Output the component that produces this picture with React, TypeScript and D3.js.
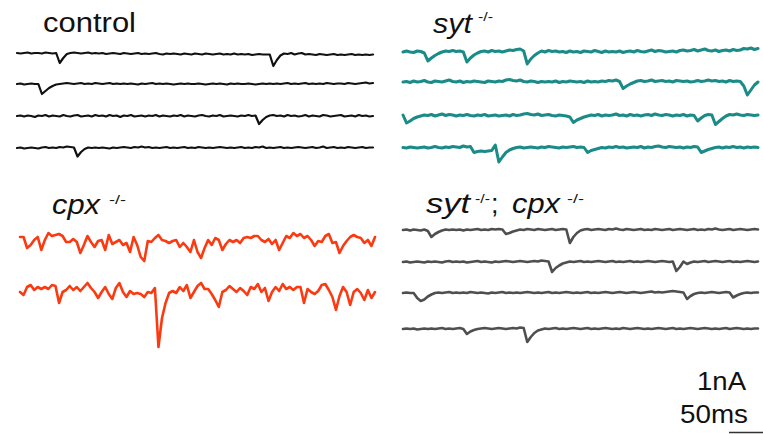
import React from 'react';
import * as d3 from 'd3';

// Sample interval of every trace (ms); values are currents in pA (negative = inward)
const SAMPLE_MS = 5;
const TRACE_MS = 500;

const controlTrace1 = [10, 5, 10, 15, 5, 10, 10, 5, 15, 10, 5, 10, -90, -40, 0, 10, 15, 10, 5, 10, 15, 5, 10, 5, 10, 0, 5, 10, 5, 0, 10, 5, 0, 5, 10, 0, 5, 0, 5, 10, 0, -5, 5, 0, 5, 0, -5, 5, 0, -5, 5, 0, -5, 5, 0, -5, 0, 5, -5, 0, -5, 5, -5, 0, -5, 0, -10, -5, 0, -5, -5, -5, -120, -60, -15, 5, 0, 10, -5, 5, 10, -5, 0, -5, -10, 0, -5, -10, -5, 0, -10, -5, -10, -5, 0, -10, -5, -10, -5, -10, -5];
const controlTrace2 = [0, 5, -5, 0, 5, 0, 0, -100, -70, -40, -20, -5, 0, 5, 10, 5, 0, 5, 10, 0, 5, 0, 10, 5, 0, 5, 10, 0, 5, 0, 5, 0, 5, 0, -5, 5, 0, 5, 10, 0, 5, 0, 5, 0, -5, 0, 5, 0, 5, 0, 0, 5, 0, -5, 0, 5, 0, 5, 0, -5, 5, 0, 5, 0, 0, 5, 0, -5, 0, 5, 0, 5, 0, 5, 0, 5, 10, 0, 5, 0, 5, 10, 0, 5, 0, 5, 0, 10, 5, 0, 5, 5, 0, 10, 5, 0, 5, 10, 15, 5, 10];
const controlTrace3 = [0, 5, -5, 5, 0, -10, 5, 0, 10, -5, 5, 0, -5, 10, 0, -5, 5, 10, -5, 0, 5, -5, 10, 0, 5, -5, 10, 0, 5, -10, 5, 0, 10, -5, 0, 5, -5, 5, 0, 10, -5, 5, 0, -5, 5, 0, 10, -5, 5, 0, -5, 5, 10, 0, -5, 5, 0, 10, -5, 0, 5, 0, -5, 5, 0, 10, 0, 5, -80, -40, -10, 5, 10, 0, 5, -5, 10, 0, 5, -5, 0, 10, -5, 5, 0, -5, 10, 5, -5, 0, 5, 10, -5, 0, 5, -5, 10, 0, 5, -5, 0];
const controlTrace4 = [0, 5, -5, 0, 5, 0, -5, 5, 10, 0, 5, 0, 10, 5, 15, 10, 5, -85, -40, -10, 5, 0, 5, 0, 5, 0, -5, 5, 0, 5, 10, 5, 0, 10, 5, 15, 5, 10, 0, 5, 0, 5, 10, 0, 5, 0, 5, 10, 0, 5, 0, 10, 5, 0, 5, 0, 5, 10, 5, 0, 5, 0, 5, 10, 0, 5, 0, 10, 5, 15, 0, 5, 0, 5, 10, 0, 5, 0, 5, 10, 5, 0, 5, 10, 0, 5, 15, 0, 5, 10, 0, 5, 0, 10, 5, 0, 5, 10, 0, 5, 5];

const sytTrace1 = [0, 10, 0, -5, 10, 5, -10, -90, -60, -35, -15, 0, 10, 5, 15, 5, 10, 0, -100, -60, -30, -10, 5, 10, 0, 15, 5, 10, 0, 10, 20, 15, 25, 30, 10, -120, -70, -35, -10, 10, 0, 15, 5, 10, 0, 5, -5, 10, 0, 5, -5, 10, 5, 0, 15, 5, -5, 10, 0, 5, 0, 10, -5, 5, 10, 0, 15, 5, 0, 10, 20, 5, 15, 10, 0, 5, 10, 0, 15, 20, 10, 15, 25, 10, 20, 30, 15, 10, 20, 5, 15, 20, 10, 25, 15, 20, 35, 30, 40, 25, 35];
const sytTrace2 = [0, 5, -5, 10, 0, 5, 15, 0, -5, 10, 5, 0, 10, 20, 5, 0, 10, -5, 5, 0, 10, 5, 0, -5, 10, 5, 0, 10, 5, 20, 25, 15, 10, 20, 5, 0, 10, 5, -5, 5, 0, 5, 0, 10, -5, 5, 0, 10, 5, 0, 5, -5, 10, 0, 5, 0, 10, 5, 15, 10, 20, 5, -65, -40, -20, -5, 10, 15, 5, 10, 20, 5, 10, 15, 5, 10, 0, 15, 10, 5, 10, 0, 5, 15, 5, 10, 20, 10, 15, 5, 10, 0, 15, 5, 10, 5, -40, -130, -80, -30, 0];
const sytTrace3 = [10, -70, -50, -25, -10, 0, 10, 5, 15, 0, 10, 20, 5, 15, 10, 0, 10, 5, 15, 5, 0, 10, 5, 15, 0, 5, 10, 0, 5, 10, 0, 15, 5, 10, 20, 25, 15, 10, 20, 5, 10, 15, 5, 0, 10, 5, 0, -10, -65, -40, -25, -10, 0, 10, 5, 15, 0, 10, 5, 10, 20, 5, 10, 0, 15, 5, 10, 0, 10, 15, 5, 20, 10, 5, 15, 10, 0, 10, 5, 15, 0, 10, 5, -50, -20, 5, 15, 10, -85, -55, -25, 0, 15, 10, 20, 10, 5, 15, 10, 5, 10];
const sytTrace4 = [5, 0, 10, 5, 0, 5, 10, 0, 5, 15, 5, 0, 10, 5, 15, 10, 5, 20, 10, 15, -45, -35, -30, -35, -30, -25, 30, -140, -90, -45, -20, -5, 5, 10, 0, 5, 10, 5, 0, 10, 5, 15, 10, 5, 0, 10, 5, 10, 15, 5, 10, 5, -45, -25, -15, -5, 5, 0, 10, 5, 15, 5, 10, 0, 5, 10, 5, 15, 0, 10, 5, 15, 20, 10, 5, 15, 10, 5, 10, 0, 10, 5, 15, 10, -45, -30, -15, -5, 5, 10, 0, 10, 5, 15, 5, 10, 0, 10, 5, 10, 5];

const cpxTrace1 = [60, 60, -50, -20, 30, 60, -70, 30, 100, 70, 80, 90, 70, 10, 10, 40, 10, -100, -20, 70, 10, -40, 20, 30, -70, 80, -10, 10, 30, -20, 0, -90, 60, -20, -140, -180, 20, 10, 50, 80, 30, 20, 0, 20, 30, -40, 0, -40, -90, 30, -90, -150, -50, 30, -20, 50, 30, -70, -10, 30, 10, 30, 0, 50, 60, 50, 70, 70, 30, 10, 40, -10, 30, -70, 0, 70, 50, 100, 70, 90, 50, 70, 30, -30, 20, 10, 70, 90, 0, 10, -100, -30, 20, 60, 80, 60, 50, 0, 30, -30, 60];
const cpxTrace2 = [-10, -40, 40, 60, 10, 40, 20, 40, 20, 60, 50, -120, -10, 10, 50, 10, 40, 0, 40, 80, 30, -10, -70, -10, 40, -30, -80, 30, 80, -10, -60, 0, -30, -20, -30, -60, -10, -20, 30, -560, -270, -120, -20, 0, -20, 40, 0, 60, -70, -10, 50, 80, 20, 20, -30, -90, -160, -10, 10, 50, 20, -10, 30, 0, -40, 40, 20, 70, -10, 30, -100, -10, 40, 0, 70, 20, 40, 10, 40, 40, -120, 20, -10, -30, 0, 60, 70, 10, -60, -190, -50, 40, -10, -140, -10, 20, -20, -90, 10, -70, -10];

const sytCpxTrace1 = [0, 5, -5, 5, 0, -5, 5, -10, -70, -40, -20, -5, 5, 0, 5, 0, 5, -5, 5, 0, 5, 10, 0, 5, 0, 10, 5, 10, 5, -40, -30, -15, -5, 5, 0, 10, 5, 0, 10, 5, 0, 5, 10, 0, 5, 10, 5, -130, -70, -30, -5, 5, 10, 0, 5, 10, 5, 0, 10, 5, 15, 5, 0, 10, 5, 0, 5, 10, 0, 5, 0, 10, 5, 0, 5, 10, 0, 5, 10, 5, 0, 5, 10, 0, 5, 0, 10, 5, 15, 5, 0, 5, 10, 0, 5, 10, 5, 0, 5, 10, 5];
const sytCpxTrace2 = [0, 5, -5, 0, 5, 0, -5, 5, 0, 5, 0, -5, 5, 10, 0, 5, 0, 5, -5, 0, 5, 10, 0, 5, 0, -5, 5, 0, 5, 10, 5, 0, 5, 10, 5, 0, 5, 10, 5, 15, 10, 5, -100, -60, -35, -15, -5, 5, 0, 5, 10, 0, 5, 0, 5, 10, 5, 0, 5, 10, 0, 5, 0, 5, 10, 0, 5, 0, 5, 10, 5, 0, 5, 10, 5, 0, 5, -90, -50, 5, -20, -5, 5, 0, 5, 10, 0, 5, 10, 5, 0, 5, 10, 0, 5, 0, 5, 10, 5, 0, 5];
const sytCpxTrace3 = [0, 5, 0, 0, -50, -80, -65, -35, -15, 0, 5, 0, 5, 10, 0, 5, 0, 5, 0, 10, 5, 0, 5, 0, -5, 5, 0, 5, 10, 0, 5, 0, 5, 0, 5, 10, 5, 0, 5, 0, 5, 10, 0, 5, 0, 5, 10, 5, 0, 5, 0, 5, 10, 0, 5, 0, 5, 10, 5, 0, 5, 10, 5, 0, 5, 10, 5, 0, 5, 10, 15, 5, 10, 5, 10, 15, 20, 15, 10, 5, -60, -30, -10, 0, 5, 0, 5, 10, 5, 0, 5, 10, 5, -45, -25, -10, 0, 5, 0, 5, 5];
const sytCpxTrace4 = [0, 5, 0, 5, -5, 0, 5, 0, 5, 0, 5, 10, 0, 5, 0, 5, 10, 0, -50, -25, -10, 0, 5, 10, 5, 0, 5, 10, 5, 0, 5, 10, 5, 15, 10, -130, -80, -40, -15, -5, 5, 0, 5, 10, 0, 5, 0, 5, 10, 5, 0, 5, 10, 0, 5, 0, 5, 10, 5, 0, 5, 0, 10, 5, 0, 5, 10, 5, 0, 5, 0, 5, 10, 5, 0, 5, 10, 0, 5, 0, 5, 10, 5, 0, 5, 10, 5, 0, 5, 0, 5, 10, 0, 5, 10, 5, 0, 5, 0, 5, 5];

const SCALE_BAR_MS = 50;
const ampLabel = '1nA';
const timeLabel = '50ms';

const FONT = "'Liberation Sans', Arial, Helvetica, sans-serif";

type Panel = {
  traces: number[][];
  x0: number;
  x1: number;
  baselines: number[];
  color: string;
  width: number;
};

const panels: Panel[] = [
  { traces: [controlTrace1, controlTrace2, controlTrace3, controlTrace4], x0: 17, x1: 373, baselines: [54, 84, 116, 148], color: '#111111', width: 2.2 },
  { traces: [sytTrace1, sytTrace2, sytTrace3, sytTrace4], x0: 403, x1: 758, baselines: [52, 82, 116, 148], color: '#1b8b88', width: 3 },
  { traces: [cpxTrace1, cpxTrace2], x0: 20, x1: 375, baselines: [243, 291], color: '#fb3a12', width: 2.6 },
  { traces: [sytCpxTrace1, sytCpxTrace2, sytCpxTrace3, sytCpxTrace4], x0: 403, x1: 758, baselines: [230, 262, 293, 329], color: '#4f4f4f', width: 2.6 },
];

// 1 px = 10 pA
const amp = d3.scaleLinear().domain([0, 1000]).range([0, -100]);

export default function App() {
  const timeScale = d3.scaleLinear().domain([0, TRACE_MS]).range([403, 758]);
  const barX0 = 729;
  const barLen = timeScale(SCALE_BAR_MS) - timeScale(0);
  return (
    <svg width={763} height={434} style={{ position: 'absolute', left: 0, top: 0, background: '#fff' }}>
      <rect x={0} y={0} width={763} height={434} fill="#ffffff" />
      {panels.map((p, pi) => {
        const xs = d3.scaleLinear().domain([0, TRACE_MS]).range([p.x0, p.x1]);
        return (
          <g key={pi}>
            {p.traces.map((tr, ti) => {
              const line = d3
                .line<number>()
                .x((_, i) => xs(i * SAMPLE_MS))
                .y((d) => p.baselines[ti] + amp(d))
                .curve(d3.curveLinear);
              return (
                <path key={ti} d={line(tr) || ''} fill="none" stroke={p.color} strokeWidth={p.width} strokeLinejoin="round" strokeLinecap="round" />
              );
            })}
          </g>
        );
      })}
      <g fontFamily={FONT} fill="#111">
        <text x={43} y={32} fontSize={27} textLength={93} lengthAdjust="spacingAndGlyphs">control</text>
        <text x={433} y={33} fontSize={27} fontStyle="italic" textLength={39} lengthAdjust="spacingAndGlyphs">syt</text>
        <text x={478} y={21} fontSize={12} textLength={15} lengthAdjust="spacingAndGlyphs">-/-</text>
        <text x={52} y={214} fontSize={27} fontStyle="italic" textLength={48} lengthAdjust="spacingAndGlyphs">cpx</text>
        <text x={109} y={204} fontSize={12} textLength={17} lengthAdjust="spacingAndGlyphs">-/-</text>
        <text x={426} y={213} fontSize={27} fontStyle="italic" textLength={44} lengthAdjust="spacingAndGlyphs">syt</text>
        <text x={475} y={203} fontSize={12} textLength={15} lengthAdjust="spacingAndGlyphs">-/-</text>
        <text x={491} y={213} fontSize={27}>;</text>
        <text x={512} y={213} fontSize={27} fontStyle="italic" textLength={48} lengthAdjust="spacingAndGlyphs">cpx</text>
        <text x={567} y={203} fontSize={12} textLength={17} lengthAdjust="spacingAndGlyphs">-/-</text>
        <text x={697} y={390} fontSize={25} textLength={49} lengthAdjust="spacingAndGlyphs">{ampLabel}</text>
        <text x={680} y={423} fontSize={25} textLength={68} lengthAdjust="spacingAndGlyphs">{timeLabel}</text>
      </g>
      <line x1={barX0} x2={barX0 + barLen} y1={432.5} y2={432.5} stroke="#333" strokeWidth={1.5} />
    </svg>
  );
}
